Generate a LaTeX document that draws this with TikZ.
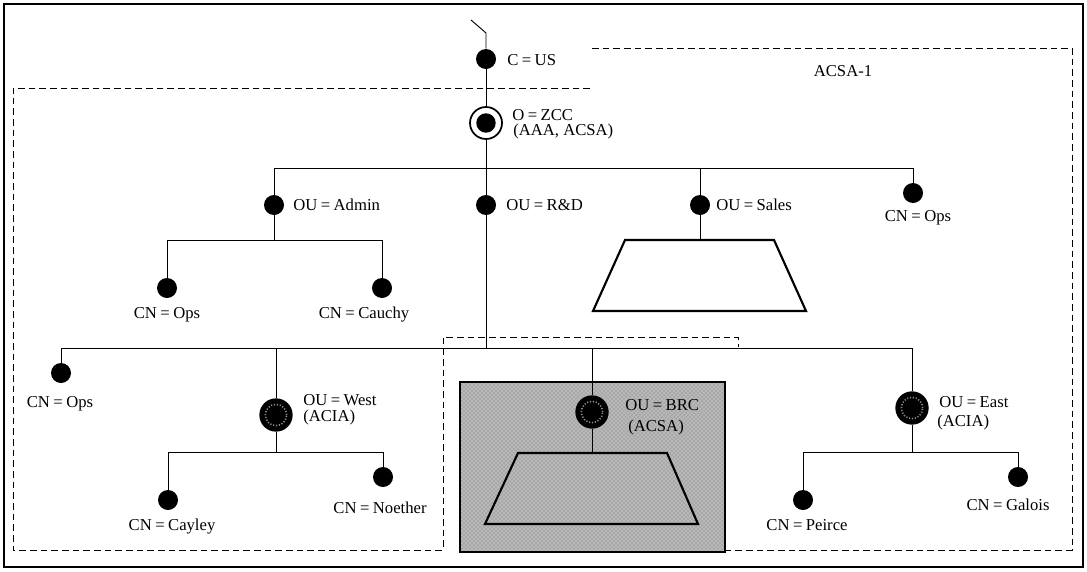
\documentclass[tikz,border=0pt]{standalone}
\usepackage{fontspec}
\setmainfont{Liberation Serif}
\usetikzlibrary{patterns}
\newcommand{\eq}{\kern2.6pt=\kern2.6pt}
\begin{document}
\begin{tikzpicture}[x=0.75pt,y=-0.75pt,
  conn/.style={line width=0.7pt},
  dot/.style={circle,fill=black,inner sep=0pt,minimum size=15pt},
  bigdot/.style={circle,fill=black,inner sep=0pt,minimum size=25pt,
    path picture={\draw[black!45,line width=1.2pt,dash pattern=on 0.9pt off 1.3pt]
      (path picture bounding box.center) circle (8pt);}},
  rootdot/.style={circle,draw=black,line width=1.3pt,inner sep=0pt,minimum size=24pt,
    path picture={\fill (path picture bounding box.center) circle (7.3pt);}},
  lbl/.style={anchor=west,inner sep=0pt,font=\fontsize{12.5}{14}\selectfont},
  clbl/.style={inner sep=0pt,font=\fontsize{12.5}{14}\selectfont},
  region/.style={dash pattern=on 5pt off 3pt,line width=0.6pt},
  trap/.style={line width=1.6pt,line join=miter},
  frame/.style={line width=1.2pt}
]
\useasboundingbox (0,0) rectangle (1087,571);
% outer frame
\draw[frame] (4,4) rectangle (1083,567);

% ACSA regions (dashed)
\draw[region] (590,88) -- (13,88) -- (13,550) -- (443,550) -- (443,337) -- (738,337) -- (738,347);
\draw[region] (592,48) -- (1072,48) -- (1072,550) -- (725,550);
\node[clbl] (acsa) at (843,71) {ACSA-1};

% BRC shaded box
\fill[black!28] (460,382) rectangle (725,552);
\path[pattern=crosshatch dots,pattern color=black!55] (460,382) rectangle (725,552);
\draw[line width=1.6pt] (460,382) rectangle (725,552);

% trapezoids
\coordinate (salesT) at (700,240);
\draw[trap] (625,240) -- (774,240) -- (806,311) -- (593,311) -- cycle;
\coordinate (brcT) at (592,453);
\draw[trap] (518,453) -- (667,453) -- (698,524) -- (485,524) -- cycle;

% nodes
\node[dot] (cus) at (486,59) {};
\node[rootdot] (zcc) at (486,123) {};
\node[dot] (admin) at (274,205) {};
\node[dot] (rd) at (486,205) {};
\node[dot] (sales) at (700,205) {};
\node[dot] (ops1) at (913,193) {};
\node[dot] (opsA) at (167,288) {};
\node[dot] (cauchy) at (382,288) {};
\node[dot] (opsB) at (61,373) {};
\node[bigdot] (west) at (276,415) {};
\node[bigdot] (brc) at (592,412) {};
\node[bigdot] (east) at (912,408) {};
\node[dot] (cayley) at (168,500) {};
\node[dot] (noether) at (383,477) {};
\node[dot] (peirce) at (803,500) {};
\node[dot] (galois) at (1018,477) {};

% connectors
\coordinate (top) at (471,20);
\coordinate (bend) at (486,33);
\draw[conn] (top) -- (bend) -- (cus);
\draw[conn] (cus) -- (zcc);
\coordinate (b0) at (486,168);
\draw[conn] (zcc) -- (b0);
\draw[conn] (b0) -| (admin);
\draw[conn] (b0) -- (rd);
\draw[conn] (b0) -| (sales);
\draw[conn] (b0) -| (ops1);
\draw[conn] (sales) -- (salesT);
\coordinate (b1) at (274,240);
\draw[conn] (admin) -- (b1);
\draw[conn] (b1) -| (opsA);
\draw[conn] (b1) -| (cauchy);
\coordinate (b2) at (486,348);
\draw[conn] (rd) -- (b2);
\draw[conn] (b2) -| (opsB);
\draw[conn] (b2) -| (west);
\draw[conn] (b2) -| (brc);
\draw[conn] (b2) -| (east);
\draw[conn] (brc) -- (brcT);
\coordinate (b3) at (276,452);
\draw[conn] (west) -- (b3);
\draw[conn] (b3) -| (cayley);
\draw[conn] (b3) -| (noether);
\coordinate (b4) at (912,452);
\draw[conn] (east) -- (b4);
\draw[conn] (b4) -| (peirce);
\draw[conn] (b4) -| (galois);

% labels
\node[lbl] (cusL) at (507,60) {C\eq US};
\node[lbl] (zccL) at (512,115) {O\eq ZCC};
\node[lbl] (zccL2) at (513,131) {(AAA, ACSA)};
\node[lbl] (adminL) at (293,205) {OU\eq Admin};
\node[lbl] (rdL) at (506,205) {OU\eq R\&D};
\node[lbl] (salesL) at (716,205) {OU\eq Sales};
\node[clbl] (ops1L) at (918,218) {CN\eq Ops};
\node[clbl] (opsAL) at (167,315) {CN\eq Ops};
\node[clbl] (cauchyL) at (364,315) {CN\eq Cauchy};
\node[clbl] (opsBL) at (60,404) {CN\eq Ops};
\node[lbl] (westL) at (303,400) {OU\eq West};
\node[lbl] (westL2) at (303,417) {(ACIA)};
\node[lbl] (brcL) at (625,405) {OU\eq BRC};
\node[lbl] (brcL2) at (628,427) {(ACSA)};
\node[lbl] (eastL) at (939,402) {OU\eq East};
\node[lbl] (eastL2) at (937,422) {(ACIA)};
\node[clbl] (cayleyL) at (172,527) {CN\eq Cayley};
\node[clbl] (noetherL) at (380,508) {CN\eq Noether};
\node[clbl] (peirceL) at (807,525) {CN\eq Peirce};
\node[clbl] (galoisL) at (1008,505) {CN\eq Galois};
\end{tikzpicture}
\end{document}
